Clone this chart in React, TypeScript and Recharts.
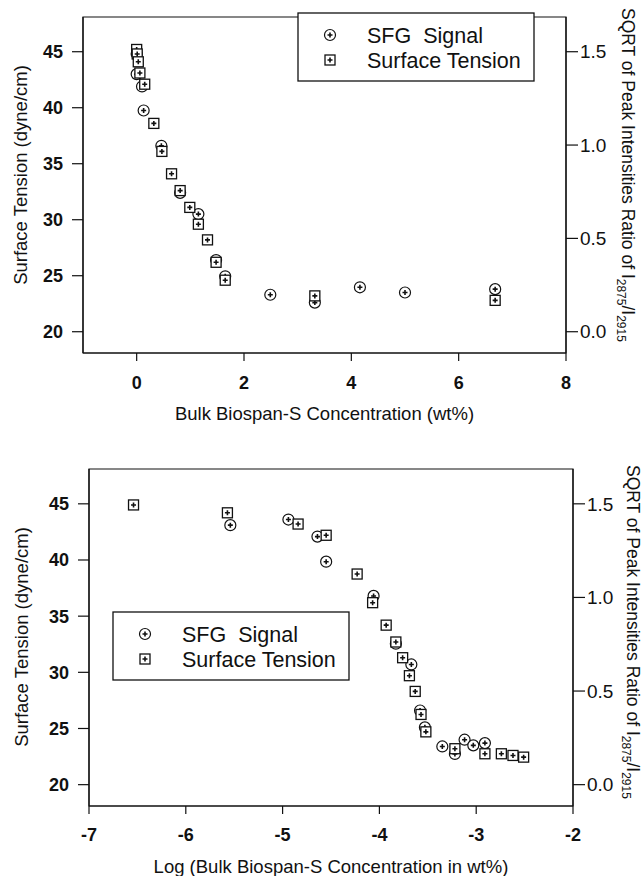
import React from 'react'
import { ScatterChart, Scatter, XAxis, YAxis, ReferenceArea } from 'recharts'

// top plot: concentration in wt%
const linTensionX = [0, 0.01, 0.03, 0.06, 0.15, 0.32, 0.47, 0.65, 0.81, 0.99, 1.15, 1.32, 1.48, 1.65, 3.32, 6.68]
const linTensionY = [45.2, 44.8, 44.1, 43.1, 42.1, 38.6, 36.1, 34.1, 32.6, 31.1, 29.6, 28.2, 26.2, 24.6, 23.2, 22.8]
const linSfgX = [0, 0, 0.1, 0.13, 0.46, 0.81, 1.15, 1.48, 1.65, 2.49, 3.32, 4.16, 5.0, 6.68]
const linSfgY = [1.488, 1.38, 1.314, 1.185, 0.996, 0.744, 0.63, 0.384, 0.297, 0.198, 0.156, 0.238, 0.21, 0.228]

// bottom plot: log of concentration
const logTensionX = [-6.54, -5.57, -4.84, -4.55, -4.23, -4.07, -3.93, -3.83, -3.76, -3.69, -3.63, -3.57, -3.52, -3.22, -2.91, -2.74, -2.62, -2.51]
const logTensionY = [44.9, 44.2, 43.2, 42.2, 38.75, 36.2, 34.2, 32.7, 31.3, 29.7, 28.3, 26.25, 24.7, 23.2, 22.75, 22.75, 22.6, 22.45]
const logSfgX = [-5.54, -4.94, -4.64, -4.55, -4.06, -3.83, -3.67, -3.58, -3.53, -3.35, -3.22, -3.12, -3.03, -2.91]
const logSfgY = [1.386, 1.416, 1.325, 1.191, 1.008, 0.753, 0.642, 0.396, 0.306, 0.204, 0.164, 0.24, 0.21, 0.222]

const tensionTicks = [20, 25, 30, 35, 40, 45]
const ratioTicks = [0, 0.5, 1.0, 1.5]
const linTicks = [0, 2, 4, 6, 8]
const logTicks = [-7, -6, -5, -4, -3, -2]

const tensionDomain = [18.1, 48.1]
// right axis: 0.0 sits on 20 dyne/cm and 1.5 on 45
const ratioDomain = tensionDomain.map((v) => (v - 20) * 0.06)

const zip = (xs: number[], ys: number[]) => xs.map((x, i) => ({ x, y: ys[i] }))

const FONT = '"Liberation Sans", Arial, Helvetica, sans-serif'
const INK = '#111'

const CircleMark = (props: any) => {
  const { cx, cy } = props
  if (cx == null || cy == null) return null
  return (
    <g>
      <circle cx={cx} cy={cy} r={5.5} fill="#fff" stroke={INK} strokeWidth={1.2} />
      <path d={`M${cx - 2.5},${cy}H${cx + 2.5}M${cx},${cy - 2.5}V${cy + 2.5}`} stroke={INK} strokeWidth={1.6} />
    </g>
  )
}

const SquareMark = (props: any) => {
  const { cx, cy } = props
  if (cx == null || cy == null) return null
  return (
    <g>
      <rect x={cx - 5} y={cy - 5} width={10} height={10} fill="#fff" stroke={INK} strokeWidth={1.3} />
      <path d={`M${cx - 2.5},${cy}H${cx + 2.5}M${cx},${cy - 2.5}V${cy + 2.5}`} stroke={INK} strokeWidth={1.6} />
    </g>
  )
}

function LegendBox({ left, top }: { left: number; top: number }) {
  const txt = { fontFamily: FONT, fontSize: 21.5, fill: INK, whiteSpace: 'pre' as const }
  return (
    <svg style={{ position: 'absolute', left, top }} width={239} height={71}>
      <rect x={1} y={1} width={236} height={68} fill="#fff" stroke={INK} strokeWidth={1.3} />
      <CircleMark cx={33} cy={23} />
      <text x={70} y={31} style={txt}>SFG  Signal</text>
      <SquareMark cx={33} cy={48} />
      <text x={70} y={56} style={txt}>Surface Tension</text>
    </svg>
  )
}

const leftTitle = (dx: number, dy: number) => (props: any) => {
  const vb = props.viewBox
  const x = vb.x + dx
  const y = vb.y + dy
  return (
    <text x={x} y={y} transform={`rotate(-90 ${x} ${y})`} textAnchor="middle"
      style={{ fontFamily: FONT, fontSize: 18.5, fill: INK }}>
      Surface Tension (dyne/cm)
    </text>
  )
}

const rightTitle = (dx: number, dy: number) => (props: any) => {
  const vb = props.viewBox
  const x = vb.x + dx
  const y = vb.y + dy
  return (
    <text x={x} y={y} transform={`rotate(90 ${x} ${y})`} textAnchor="start"
      style={{ fontFamily: FONT, fontSize: 17.5, fill: INK }}>
      <tspan>SQRT of Peak Intensities Ratio of I</tspan>
      <tspan fontSize={12} dy={5}>2875</tspan>
      <tspan dy={-5}>/I</tspan>
      <tspan fontSize={12} dy={5}>2915</tspan>
    </text>
  )
}

const axisLine = { stroke: INK, strokeWidth: 1.2 }
const boldTick = { fill: INK, fontSize: 18, fontWeight: 700, fontFamily: FONT }
const rightTick = { fill: INK, fontSize: 19, fontFamily: FONT }

function Panel(props: {
  height: number
  marginTop: number
  leftW: number
  rightW: number
  axisH: number
  xDomain: number[]
  xTicks: number[]
  tensionData: { x: number; y: number }[]
  sfgData: { x: number; y: number }[]
  xTitle: string
  xTitleOffset: number
  xTickMargin: number
  leftTitlePos: [number, number]
  rightTitlePos: [number, number]
}) {
  const p = props
  return (
    <ScatterChart width={644} height={p.height} margin={{ top: p.marginTop, right: 0, bottom: 0, left: 0 }}>
      <XAxis
        dataKey="x"
        type="number"
        domain={p.xDomain}
        ticks={p.xTicks}
        allowDataOverflow
        height={p.axisH}
        axisLine={axisLine}
        tickLine={axisLine}
        tickSize={8}
        tickMargin={p.xTickMargin}
        tick={boldTick}
        label={{ value: p.xTitle, position: 'insideBottom', offset: p.xTitleOffset, style: { fontFamily: FONT, fontSize: 18.5, fill: INK } }}
      />
      <YAxis
        yAxisId="left"
        dataKey="y"
        type="number"
        domain={tensionDomain}
        ticks={tensionTicks}
        allowDataOverflow
        width={p.leftW}
        axisLine={axisLine}
        tickLine={axisLine}
        tickSize={11}
        tickMargin={9}
        tick={boldTick}
        label={leftTitle(p.leftTitlePos[0], p.leftTitlePos[1])}
      />
      <YAxis
        yAxisId="right"
        orientation="right"
        dataKey="y"
        type="number"
        domain={ratioDomain}
        ticks={ratioTicks}
        allowDataOverflow
        width={p.rightW}
        axisLine={axisLine}
        tickLine={axisLine}
        tickSize={12}
        tickMargin={2}
        tick={rightTick}
        tickFormatter={(v: number) => v.toFixed(1)}
        label={rightTitle(p.rightTitlePos[0], p.rightTitlePos[1])}
      />
      <ReferenceArea
        x1={p.xDomain[0]}
        x2={p.xDomain[1]}
        y1={tensionDomain[0]}
        y2={tensionDomain[1]}
        yAxisId="left"
        fill="none"
        stroke={INK}
        strokeWidth={1.2}
        ifOverflow="visible"
      />
      <Scatter yAxisId="right" data={p.sfgData} shape={CircleMark} isAnimationActive={false} />
      <Scatter yAxisId="left" data={p.tensionData} shape={SquareMark} isAnimationActive={false} />
    </ScatterChart>
  )
}

export default function App() {
  return (
    <div style={{ position: 'absolute', left: 0, top: 0, width: 644, height: 876, background: '#fff' }}>
      <div style={{ position: 'absolute', left: 0, top: 0 }}>
        <Panel
          height={430}
          marginTop={17}
          leftW={83}
          rightW={78}
          axisH={77}
          xDomain={[-1, 8]}
          xTicks={linTicks}
          tensionData={zip(linTensionX, linTensionY)}
          sfgData={zip(linSfgX, linSfgY)}
          xTitle="Bulk Biospan-S Concentration (wt%)"
          xTitleOffset={10}
          xTickMargin={15}
          leftTitlePos={[27, 158]}
          rightTitlePos={[56, -9]}
        />
      </div>
      <div style={{ position: 'absolute', left: 0, top: 440 }}>
        <Panel
          height={436}
          marginTop={29}
          leftW={89}
          rightW={71}
          axisH={70}
          xDomain={[-7, -2]}
          xTicks={logTicks}
          tensionData={zip(logTensionX, logTensionY)}
          sfgData={zip(logSfgX, logSfgY)}
          xTitle="Log (Bulk Biospan-S Concentration in wt%)"
          xTitleOffset={3}
          xTickMargin={14}
          leftTitlePos={[28, 168]}
          rightTitlePos={[54, -4]}
        />
      </div>
      <LegendBox left={297} top={12} />
      <LegendBox left={112} top={611} />
    </div>
  )
}
